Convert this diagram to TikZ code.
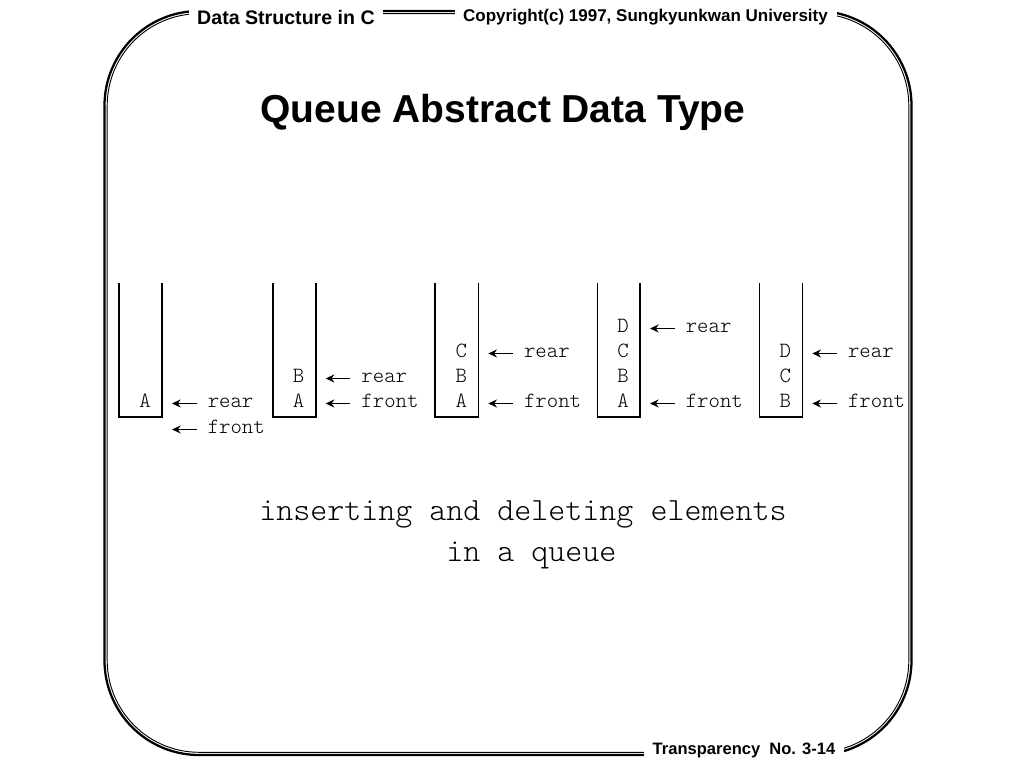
\documentclass[tikz,border=0pt]{standalone}
\usepackage{fontspec}
\setmainfont{Liberation Sans}
\setmonofont{Latin Modern Mono Light}
\usepackage{tikz}
\usetikzlibrary{arrows.meta,positioning}

\begin{document}
\begin{tikzpicture}[x=0.75pt,y=-0.75pt,
  frameout/.style={line width=1.7pt,rounded corners=71pt},
  framein/.style={line width=0.7pt,rounded corners=69pt},
  hdr/.style={fill=white,inner xsep=6.5pt,inner ysep=1.5pt,anchor=base,font=\bfseries\fontsize{#1}{#1}\selectfont},
  qbox/.style={line width=1.2pt},
  elem/.style={inner sep=0pt,anchor=base,font=\ttfamily\fontsize{16.3}{18}\selectfont},
  lbl/.style={elem,anchor=base west},
  ptr/.style={-{Stealth[length=6.5pt,width=6pt]},line width=1.2pt,shorten <=8.25pt,shorten >=7.5pt},
  capt/.style={inner sep=0pt,anchor=base west,font=\ttfamily\fontsize{24.3}{27}\selectfont}]
  \useasboundingbox (0,0) rectangle (1024,768);
  \draw[frameout] (104.5,11) rectangle (911.5,755); % 外框 粗线
  \draw[framein] (107.2,13.7) rectangle (908.8,752.3); % 外框 细线
  \node[hdr=14.7] (hl) at (286,24) {Data Structure in C};
  \node[hdr=12.75] (hr) at (645.5,21) {Copyright(c) 1997, Sungkyunkwan University};
  \node[hdr=12.4] (ft) at (744,754) {Transparency\ \ No. 3-14};
  \node[anchor=base,font=\bfseries\fontsize{29.25}{32}\selectfont] (title) at (503,122) {Queue Abstract Data Type};

  \draw[qbox] (119,283) |- (162,417) coordinate (q1) -- (162,283);
  \node[elem] (a1) at (145,407) {A};
  \node[lbl] (r1) at (207.5,407) {rear};
  \node[lbl] (f1) at (207.5,433) {front};
  \draw[ptr] (r1.mid west) -- (r1.mid west -| q1);
  \draw[ptr] (f1.mid west) -- (f1.mid west -| q1);

  \draw[qbox] (272.7,283) |- (315.7,417) coordinate (q2) -- (315.7,283);
  \node[elem] (a2) at (298.7,407) {A};
  \node[elem] (b2) at (298.7,382) {B};
  \node[lbl] (r2) at (361.2,382) {rear};
  \node[lbl] (f2) at (361.2,407) {front};
  \draw[ptr] (r2.mid west) -- (r2.mid west -| q2);
  \draw[ptr] (f2.mid west) -- (f2.mid west -| q2);

  \draw[qbox] (435,283) |- (478.3,417) coordinate (q3) -- (478.3,283);
  \node[elem] (a3) at (461.3,407) {A};
  \node[elem] (b3) at (461.3,382) {B};
  \node[elem] (c3) at (461.3,357) {C};
  \node[lbl] (r3) at (523.8,357) {rear};
  \node[lbl] (f3) at (523.8,407) {front};
  \draw[ptr] (r3.mid west) -- (r3.mid west -| q3);
  \draw[ptr] (f3.mid west) -- (f3.mid west -| q3);

  \draw[qbox] (597.3,283) |- (640,417) coordinate (q4) -- (640,283);
  \node[elem] (a4) at (623,407) {A};
  \node[elem] (b4) at (623,382) {B};
  \node[elem] (c4) at (623,357) {C};
  \node[elem] (d4) at (623,332) {D};
  \node[lbl] (r4) at (685.5,332) {rear};
  \node[lbl] (f4) at (685.5,407) {front};
  \draw[ptr] (r4.mid west) -- (r4.mid west -| q4);
  \draw[ptr] (f4.mid west) -- (f4.mid west -| q4);

  \draw[qbox] (759.3,283) |- (802.3,417) coordinate (q5) -- (802.3,283);
  \node[elem] (b5) at (785.3,407) {B};
  \node[elem] (c5) at (785.3,382) {C};
  \node[elem] (d5) at (785.3,357) {D};
  \node[lbl] (r5) at (847.8,357) {rear};
  \node[lbl] (f5) at (847.8,407) {front};
  \draw[ptr] (r5.mid west) -- (r5.mid west -| q5);
  \draw[ptr] (f5.mid west) -- (f5.mid west -| q5);

  \node[capt] (cap1) at (259,520) {inserting and deleting elements};
  \node[capt] (cap2) at (446,561) {in a queue};
\end{tikzpicture}
\end{document}
